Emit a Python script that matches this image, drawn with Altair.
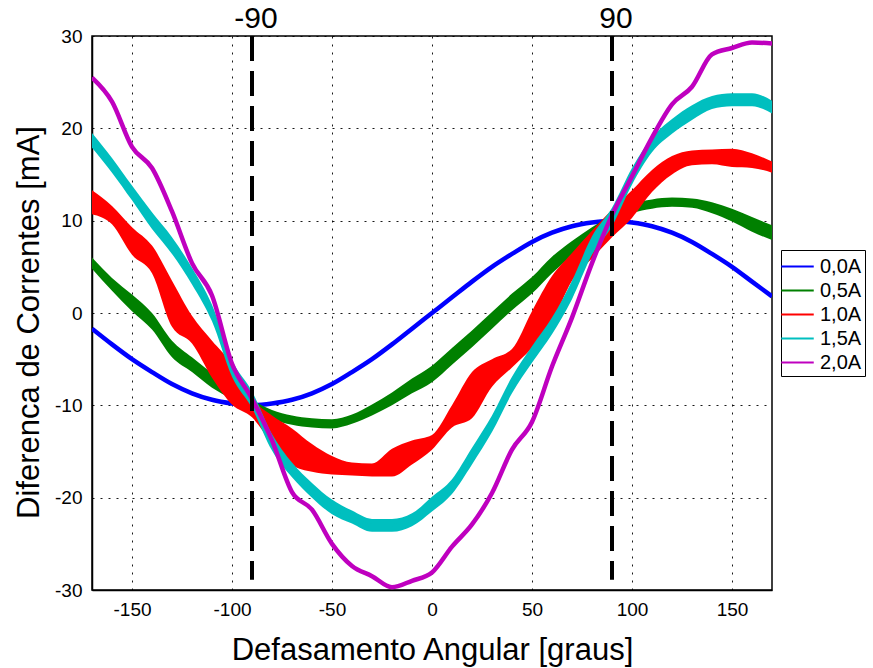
import altair as alt
import pandas as pd

angles = list(range(-170, 171, 10))

s00 = [-1.7, -3.4, -5.0, -6.4, -7.7, -8.7, -9.4, -9.8, -10.0, -9.8, -9.4, -8.7, -7.7, -6.4, -5.0, -3.4, -1.7,
       0.0, 1.7, 3.4, 5.0, 6.4, 7.7, 8.7, 9.4, 9.8, 10.0, 9.8, 9.4, 8.7, 7.7, 6.4, 5.0, 3.4, 1.8]
s05 = [5.4, 3.1, 1.1, -0.9, -3.9, -5.6, -7.3, -8.6, -9.9, -11.0, -11.6, -11.9, -12.0, -11.5, -10.5, -9.3, -7.9,
       -6.6, -4.7, -2.8, -0.8, 1.2, 3.0, 5.2, 7.0, 8.7, 10.1, 11.3, 11.8, 12.0, 11.9, 11.4, 10.6, 9.6, 8.7]
s10 = [12.0, 10.6, 7.8, 5.8, 1.0, -1.8, -5.0, -7.7, -10.3, -12.6, -14.5, -15.7, -16.5, -16.9, -17.0, -16.2, -15.1,
       -14.0, -11.2, -8.9, -6.5, -4.9, -1.8, 1.5, 5.0, 7.4, 9.7, 11.8, 14.3, 16.0, 16.8, 16.9, 16.8, 16.5, 15.8]
s15 = [18.7, 16.0, 13.0, 10.0, 7.3, 4.0, 0.0, -6.0, -9.4, -14.0, -17.0, -19.2, -21.0, -22.1, -23.0, -23.0, -22.4,
       -20.7, -18.8, -15.5, -12.0, -7.8, -4.5, -1.4, 2.5, 7.3, 10.4, 14.8, 18.2, 20.2, 21.7, 22.8, 23.1, 23.1, 22.3]
s20 = [25.5, 22.9, 18.0, 15.7, 11.0, 5.4, 1.9, -5.5, -9.3, -13.8, -19.4, -21.3, -25.0, -27.4, -28.5, -29.7, -29.0,
       -28.1, -25.3, -22.9, -19.5, -14.8, -11.8, -5.8, -0.5, 5.4, 10.6, 14.8, 19.0, 22.6, 24.5, 28.0, 28.7, 29.3, 29.2]

# half-width of the ripple band
n05 = [0.6, 0.7, 0.9, 0.9, 0.9, 0.8, 0.8, 0.7, 0.5, 0.5, 0.5, 0.5, 0.5, 0.5, 0.6, 0.7, 0.8,
       0.9, 0.9, 0.9, 0.9, 0.9, 0.9, 0.9, 0.8, 0.6, 0.5, 0.5, 0.5, 0.5, 0.5, 0.6, 0.7, 0.8, 0.8]
n10 = [1.3, 1.0, 1.5, 1.5, 2.5, 1.5, 2.0, 2.2, 1.0, 1.5, 2.0, 1.5, 1.0, 0.7, 0.7, 1.5, 1.3,
       0.8, 1.2, 2.5, 1.5, 1.0, 2.0, 2.5, 1.5, 1.5, 1.5, 1.5, 1.2, 1.0, 0.8, 0.8, 1.0, 0.8, 0.6]
n15 = [0.8, 0.8, 0.8, 0.9, 0.9, 0.9, 0.9, 0.9, 0.9, 0.9, 0.8, 0.8, 0.8, 0.7, 0.7, 0.7, 0.7,
       0.8, 0.8, 0.9, 0.9, 0.9, 0.9, 0.9, 1.0, 1.0, 1.0, 0.9, 0.8, 0.8, 0.8, 0.7, 0.7, 0.7, 0.7]
n00 = [0.0] * len(angles)
n20 = [0.0] * len(angles)

labels = ["0,0A", "0,5A", "1,0A", "1,5A", "2,0A"]
colors = ["#0000FF", "#008000", "#FF0000", "#00BFBF", "#BF00BF"]
series = [s00, s05, s10, s15, s20]
noise = [n00, n05, n10, n15, n20]

xticks = [-150, -100, -50, 0, 50, 100, 150]
yticks = [-30, -20, -10, 0, 10, 20, 30]
markers = [-90, 90]
marker_labels = ["-90", "90"]

rows = []
for lab, vals, amp in zip(labels, series, noise):
    for a, v, n in zip(angles, vals, amp):
        rows.append({"ang": a, "val": v, "lo": v - n, "hi": v + n, "serie": lab})
df = pd.DataFrame(rows)

color = alt.Color("serie:N", scale=alt.Scale(domain=labels, range=colors),
                  legend=alt.Legend(title=None, orient="none", legendX=689, legendY=214,
                                    symbolType="M-1.3,0H1.3", symbolSize=625, symbolStrokeWidth=2,
                                    labelFontSize=20, labelFont="Liberation Sans", labelColor="black",
                                    rowPadding=0, padding=3, labelOffset=9,
                                    strokeColor="black", fillColor="white"))

xs = alt.Scale(domain=[-170, 170], nice=False, zero=False)
ys = alt.Scale(domain=[-30, 30], nice=False, zero=False)
xax = alt.Axis(values=xticks, title="Defasamento Angular [graus]", labelExpr="'' + datum.value")
yax = alt.Axis(values=yticks, title="Diferenca de Correntes [mA]", labelExpr="'' + datum.value")

base = alt.Chart(df)
layers = []
for i, lab in enumerate(labels):
    sub = base.transform_filter(alt.datum.serie == lab)
    if i in (1, 2, 3):
        layers.append(sub.mark_area(interpolate="monotone", opacity=1, clip=True).encode(
            x=alt.X("ang:Q", scale=xs, axis=xax),
            y=alt.Y("lo:Q", scale=ys, axis=yax),
            y2="hi:Q",
            color=color))
    layers.append(sub.mark_line(interpolate="monotone", clip=True).encode(
        x=alt.X("ang:Q", scale=xs, axis=xax),
        y=alt.Y("val:Q", scale=ys, axis=yax),
        color=color,
        strokeWidth=alt.value(4.5 if i in (0, 4) else 2.5)))

mk = pd.DataFrame({"m": markers, "t": marker_labels, "top": [30, 30], "bot": [-28.9, -28.9]})
rules = alt.Chart(mk).mark_rule(color="black", strokeWidth=4, strokeDash=[25, 10]).encode(
    x=alt.X("m:Q", scale=xs), y=alt.Y("top:Q", scale=ys), y2="bot:Q")
texts = alt.Chart(mk).mark_text(fontSize=30, font="Liberation Sans", baseline="bottom", dy=-2, dx=4,
                                color="black").encode(
    x=alt.X("m:Q", scale=xs), y=alt.Y("top:Q", scale=ys), text="t:N")

chart = alt.layer(*layers, rules, texts).properties(
    width=680, height=554,
    autosize=alt.AutoSizeParams(type="none"),
    padding={"left": 92, "top": 36, "right": 101, "bottom": 78},
).configure_view(stroke="black", strokeWidth=1.5).configure_axis(
    domainColor="black", domainWidth=1.5, grid=True, gridColor="black", gridDash=[2, 6], gridWidth=1,
    gridOpacity=0.9, tickSize=0, labelFontSize=19, labelFont="Liberation Sans", labelColor="black",
    titleFontSize=31, titleFont="Liberation Sans", titleFontWeight="normal", titleColor="black",
    labelPadding=10,
).configure_axisX(titleBaseline="alphabetic", titleY=69).configure_axisY(titleX=-47, titleY=286)

chart.save("out.html", embed_options={"renderer": "svg", "actions": False})
